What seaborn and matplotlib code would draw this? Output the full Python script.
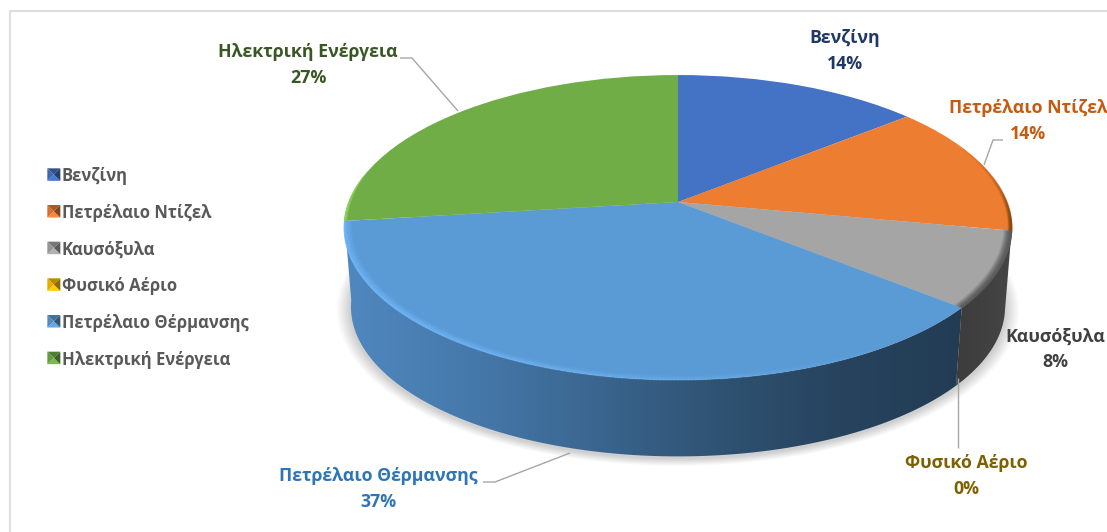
import numpy as np
import matplotlib
matplotlib.use("Agg")
import matplotlib.pyplot as plt
import seaborn as sns
from matplotlib.collections import LineCollection
from matplotlib.colors import LinearSegmentedColormap, to_rgb
from matplotlib.legend_handler import HandlerBase
from matplotlib.patches import Polygon, Wedge
from matplotlib.transforms import Transform

categories = ["Βενζίνη", "Πετρέλαιο Ντίζελ", "Καυσόξυλα", "Φυσικό Αέριο",
              "Πετρέλαιο Θέρμανσης", "Ηλεκτρική Ενέργεια"]
values = [14, 14, 8, 0, 37, 27]
slice_colors = ["#4472c4", "#ed7d31", "#a5a5a5", "#ffc000", "#5b9bd5", "#70ad47"]
label_colors = ["#203864", "#c55a11", "#404040", "#7f6000", "#2e75b6", "#385723"]
label_xy = [(845, 51), (1028, 121), (1055, 349), (966, 476), (378, 489), (308, 65)]
leaders = [None,
           [(1003, 140), (993, 140), (984, 165)],
           None,
           [(958, 378), (958, 448)],
           [(483, 482), (495, 482), (570, 453)],
           [(400, 58), (412, 58), (458, 111)]]

sns.set_theme(style="white")
plt.rcParams["font.family"] = ["Open Sans", "Noto Sans", "DejaVu Sans"]

CX, CY, A, B, K = 678.0, 202.0, 148.2, 329.0, 0.1672


class Perspective(Transform):
    input_dims = output_dims = 2
    is_separable = False
    has_inverse = False

    def transform_non_affine(self, xy):
        xy = np.asarray(xy, dtype=float)
        den = 1 + K * xy[:, 1]
        return np.column_stack((CX + B * xy[:, 0] / den, CY - A * xy[:, 1] / den))


def project(deg, r=1.0, scale=1.0, dy=0.0):
    t = np.radians(deg)
    u, v = r * np.cos(t), r * np.sin(t)
    den = 1 + K * v
    return np.column_stack((CX + scale * B * u / den, CY + dy - scale * A * v / den))


def shade(c, f):
    c = np.array(to_rgb(c))
    return tuple(np.clip(c * f, 0, 1))


class BevelHandler(HandlerBase):
    def create_artists(self, legend, orig, x0, y0, w, h, fontsize, trans):
        c = orig.get_facecolor()[:3]
        cx, cy = x0 + w / 2, y0 + h / 2
        a, b, d, e = (x0, y0), (x0 + w, y0), (x0 + w, y0 + h), (x0, y0 + h)
        mid = (cx, cy)
        parts = [([a, b, mid], 1.08), ([b, d, mid], 0.55), ([d, e, mid], 0.72), ([e, a, mid], 0.9)]
        return [Polygon(p, closed=True, facecolor=shade(c, f), edgecolor="none", transform=trans)
                for p, f in parts]


fig = plt.figure(figsize=(11.07, 5.32), dpi=100, facecolor="white")
ax = fig.add_axes([0, 0, 1, 1])
wedges, _ = ax.pie(values, colors=slice_colors, startangle=90, counterclock=False,
                   wedgeprops={"linewidth": 0, "zorder": 3})
ax.set_aspect("auto")
ax.set_xlim(0, 1107)
ax.set_ylim(532, 0)
persp = Perspective() + ax.transData
for w in wedges:
    w.set_transform(persp)

# slice boundaries as angles on the disc
edges = 90 - 360 * np.cumsum([0] + values) / sum(values)
SCALE_B, DY_B = 0.98, 80.0

# soft drop shadow under the disc
ring = np.linspace(0, 360, 240)
for i in range(12):
    s = SCALE_B + 0.0035 * (12 - i)
    ax.add_patch(Polygon(project(ring, scale=s, dy=DY_B + 2), closed=True, facecolor="#000000",
                         edgecolor="none", alpha=0.014, zorder=1))


def wall(d0, d1):
    th = np.linspace(d0, d1, 120)
    return np.vstack((project(th), project(th[::-1], scale=SCALE_B, dy=DY_B)))


# side walls with horizontal gradients
blue_cmap = LinearSegmentedColormap.from_list(
    "wall", ["#4f88bf", "#4679ab", "#3b6690", "#2f5373", "#27435e", "#223c54"])
gray_cmap = LinearSegmentedColormap.from_list("gray", ["#3c3c3c", "#454545"])
for (d0, d1, cmap, x0, x1) in [(edges[4], edges[5], blue_cmap, 345, 965),
                               (edges[2], edges[3], gray_cmap, 955, 1012)]:
    im = ax.imshow(np.linspace(0, 1, 256).reshape(1, -1), cmap=cmap, aspect="auto",
                   extent=(x0, x1, 470, 200), zorder=2, interpolation="bilinear")
    clip = Polygon(wall(d0, d1), closed=True, transform=ax.transData)
    im.set_clip_path(clip)
ax.set_xlim(0, 1107)
ax.set_ylim(532, 0)


def rim(d0, d1, color, fade, peak=0.85, r0=0.968):
    """Bevel along the outer edge of a slice; fade maps 0..1 along the arc to strength."""
    th = np.linspace(d0, d1, 260)
    f = fade(np.linspace(0, 1, th.size - 1))
    for r in np.linspace(r0, 1.0, 9):
        p = project(th, r=r)
        seg = np.stack((p[:-1], p[1:]), axis=1)
        x = (r - r0) / (1 - r0)
        prof = x ** 1.5
        rgba = np.zeros((th.size - 1, 4))
        rgba[:, :3] = to_rgb(color)
        rgba[:, 3] = np.clip(f * prof * peak, 0, 1)
        ax.add_collection(LineCollection(seg, colors=rgba, linewidths=1.0, zorder=4, capstyle="round"))


rim(edges[5], edges[4], "#70b6f8", lambda t: np.clip(1.35 - 1.5 * t, 0, 1), peak=0.75, r0=0.972)
rim(edges[3], edges[2], "#5a5a5a", lambda t: np.ones_like(t), peak=0.55, r0=0.975)
rim(edges[1], edges[2], "#8a4a12", lambda t: t ** 5, peak=0.7, r0=0.988)
rim(edges[5], edges[5] - 20, "#8fd05c", lambda t: 1 - t, peak=0.4, r0=0.99)

# leader lines
for pts in leaders:
    if pts:
        xs, ys = zip(*pts)
        ax.plot(xs, ys, color="#a6a6a6", lw=1.0, zorder=5, solid_capstyle="butt")

# data labels
for name, v, (x, y), c in zip(categories, values, label_xy, label_colors):
    ax.text(x, y, f"{name}\n{v}%", color=c, ha="center", va="center", fontsize=12.8,
            fontweight="bold", linespacing=1.52, zorder=6)

# chart border (top and left)
ax.plot([9.5, 1107], [10.5, 10.5], color="#dedede", lw=1.5, zorder=0)
ax.plot([9.5, 9.5], [10.5, 532], color="#dedede", lw=1.5, zorder=0)

leg = ax.legend(wedges, categories, handler_map={Wedge: BevelHandler()},
                loc="center left", bbox_to_anchor=(34, 268), bbox_transform=ax.transData,
                frameon=False, labelcolor="#595959",
                prop={"weight": "bold", "size": 12.0}, labelspacing=1.12,
                handlelength=0.78, handleheight=0.78, handletextpad=0.08, borderpad=0.3)

fig.savefig("out.png", dpi=100, facecolor="white")
